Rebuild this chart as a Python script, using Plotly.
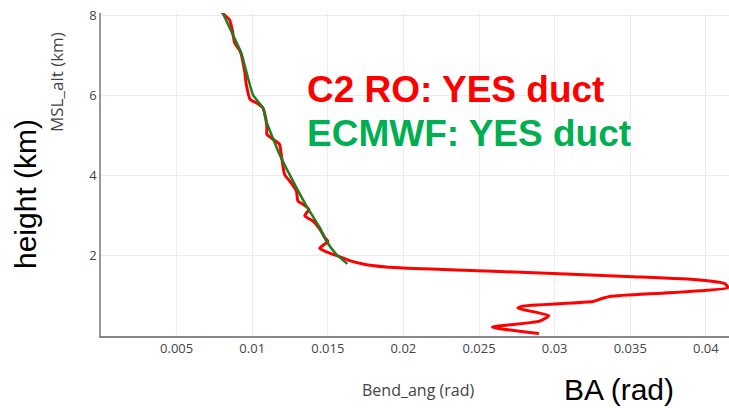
import plotly.graph_objects as go

# C2 RO bending angle profile (rad) vs MSL altitude (km)
ro_ba = [0.02896, 0.02588, 0.02901, 0.02962, 0.02757, 0.0278, 0.03253, 0.03309, 0.03375,
         0.04146, 0.04124, 0.03959, 0.03518, 0.02636, 0.01975, 0.01755, 0.01644, 0.01578,
         0.01512, 0.01446, 0.01501, 0.01479, 0.01446, 0.01401, 0.01347, 0.01375, 0.01335,
         0.01302, 0.01292, 0.01247, 0.01214, 0.01192, 0.01181, 0.01137, 0.01097, 0.01097,
         0.01089, 0.01071, 0.01027, 0.00987, 0.00961, 0.0095, 0.00921, 0.00884, 0.00868,
         0.0085, 0.00806, 0.0079]
ro_alt = [0.06, 0.22, 0.37, 0.51, 0.69, 0.74, 0.86, 0.93, 0.99,
          1.21, 1.31, 1.40, 1.48, 1.61, 1.70, 1.78, 1.88, 1.98,
          2.07, 2.19, 2.36, 2.46, 2.67, 2.87, 3.00, 3.16, 3.29,
          3.37, 3.62, 3.87, 4.03, 4.53, 4.78, 4.91, 5.03, 5.19,
          5.44, 5.69, 5.82, 5.90, 6.27, 6.60, 7.10, 7.31, 7.64,
          7.89, 8.05, 8.15]

# ECMWF bending angle profile
ec_ba = [0.01629, 0.01556, 0.0149, 0.01446, 0.01358, 0.01269, 0.01181, 0.01093,
         0.01071, 0.01005, 0.00928, 0.00872, 0.00806, 0.0079]
ec_alt = [1.80, 2.04, 2.37, 2.71, 3.25, 3.87, 4.53, 5.36,
          5.69, 6.02, 7.06, 7.52, 8.05, 8.15]

x_ticks = [0.005, 0.01, 0.015, 0.02, 0.025, 0.03, 0.035, 0.04]
x_tick_labels = ["0.005", "0.01", "0.015", "0.02", "0.025", "0.03", "0.035", "0.04"]
y_ticks = [2, 4, 6, 8]
y_tick_labels = ["2", "4", "6", "8"]

fig = go.Figure()
fig.add_trace(go.Scatter(x=ro_ba, y=ro_alt, mode="lines",
                         line=dict(color="#ff0000", width=3, shape="spline", smoothing=0.5),
                         showlegend=False))
fig.add_trace(go.Scatter(x=ec_ba, y=ec_alt, mode="lines",
                         line=dict(color="#1f7d1f", width=2.5, shape="spline", smoothing=0.5),
                         showlegend=False))

grid = "#ececec"
fig.update_xaxes(range=[0, 0.04153], tickvals=x_ticks, ticktext=x_tick_labels,
                 showgrid=True, gridcolor=grid, gridwidth=1, zeroline=False,
                 showline=True, linecolor="#888888", linewidth=1.5,
                 tickfont=dict(family="Open Sans", size=13, color="#444444"),
                 ticks="", fixedrange=True)
fig.update_yaxes(range=[0, 8.06], tickvals=y_ticks, ticktext=y_tick_labels,
                 showgrid=True, gridcolor=grid, gridwidth=1, zeroline=False,
                 showline=True, linecolor="#999999", linewidth=1.5,
                 tickfont=dict(family="Open Sans", size=13, color="#444444"),
                 ticks="", fixedrange=True)

L, T, W, H = 101, 13, 628, 323


def px(xp):
    return (xp - L) / W


def py(yp):
    return (T + H - yp) / H


annos = [
    dict(text="<b>C2 RO: YES duct</b>", x=px(305), y=py(89), xanchor="left", yanchor="middle",
         font=dict(family="Liberation Sans, Arial", size=37, color="#ff0000")),
    dict(text="<b>ECMWF: YES duct</b>", x=px(305), y=py(133), xanchor="left", yanchor="middle",
         font=dict(family="Liberation Sans, Arial", size=37, color="#00b050")),
    dict(text="height (km)", x=px(25), y=py(194), xanchor="center", yanchor="middle", textangle=-90,
         font=dict(family="Liberation Sans, Arial", size=30, color="#000000")),
    dict(text="MSL_alt (km)", x=px(56), y=py(82), xanchor="center", yanchor="middle", textangle=-90,
         font=dict(family="Open Sans", size=17, color="#444444")),
    dict(text="Bend_ang (rad)", x=px(418), y=py(390), xanchor="center", yanchor="middle",
         font=dict(family="Open Sans", size=16, color="#444444")),
    dict(text="BA (rad)", x=px(619), y=py(389), xanchor="center", yanchor="middle",
         font=dict(family="Liberation Sans, Arial", size=30, color="#000000")),
]
for a in annos:
    a.update(xref="paper", yref="paper", showarrow=False)
fig.update_layout(annotations=annos)

fig.update_layout(width=729, height=408, margin=dict(l=L, r=729 - L - W, t=T, b=408 - T - H, pad=0),
                  plot_bgcolor="white", paper_bgcolor="white", showlegend=False)

fig.write_html("out.html", config={"displayModeBar": False})
